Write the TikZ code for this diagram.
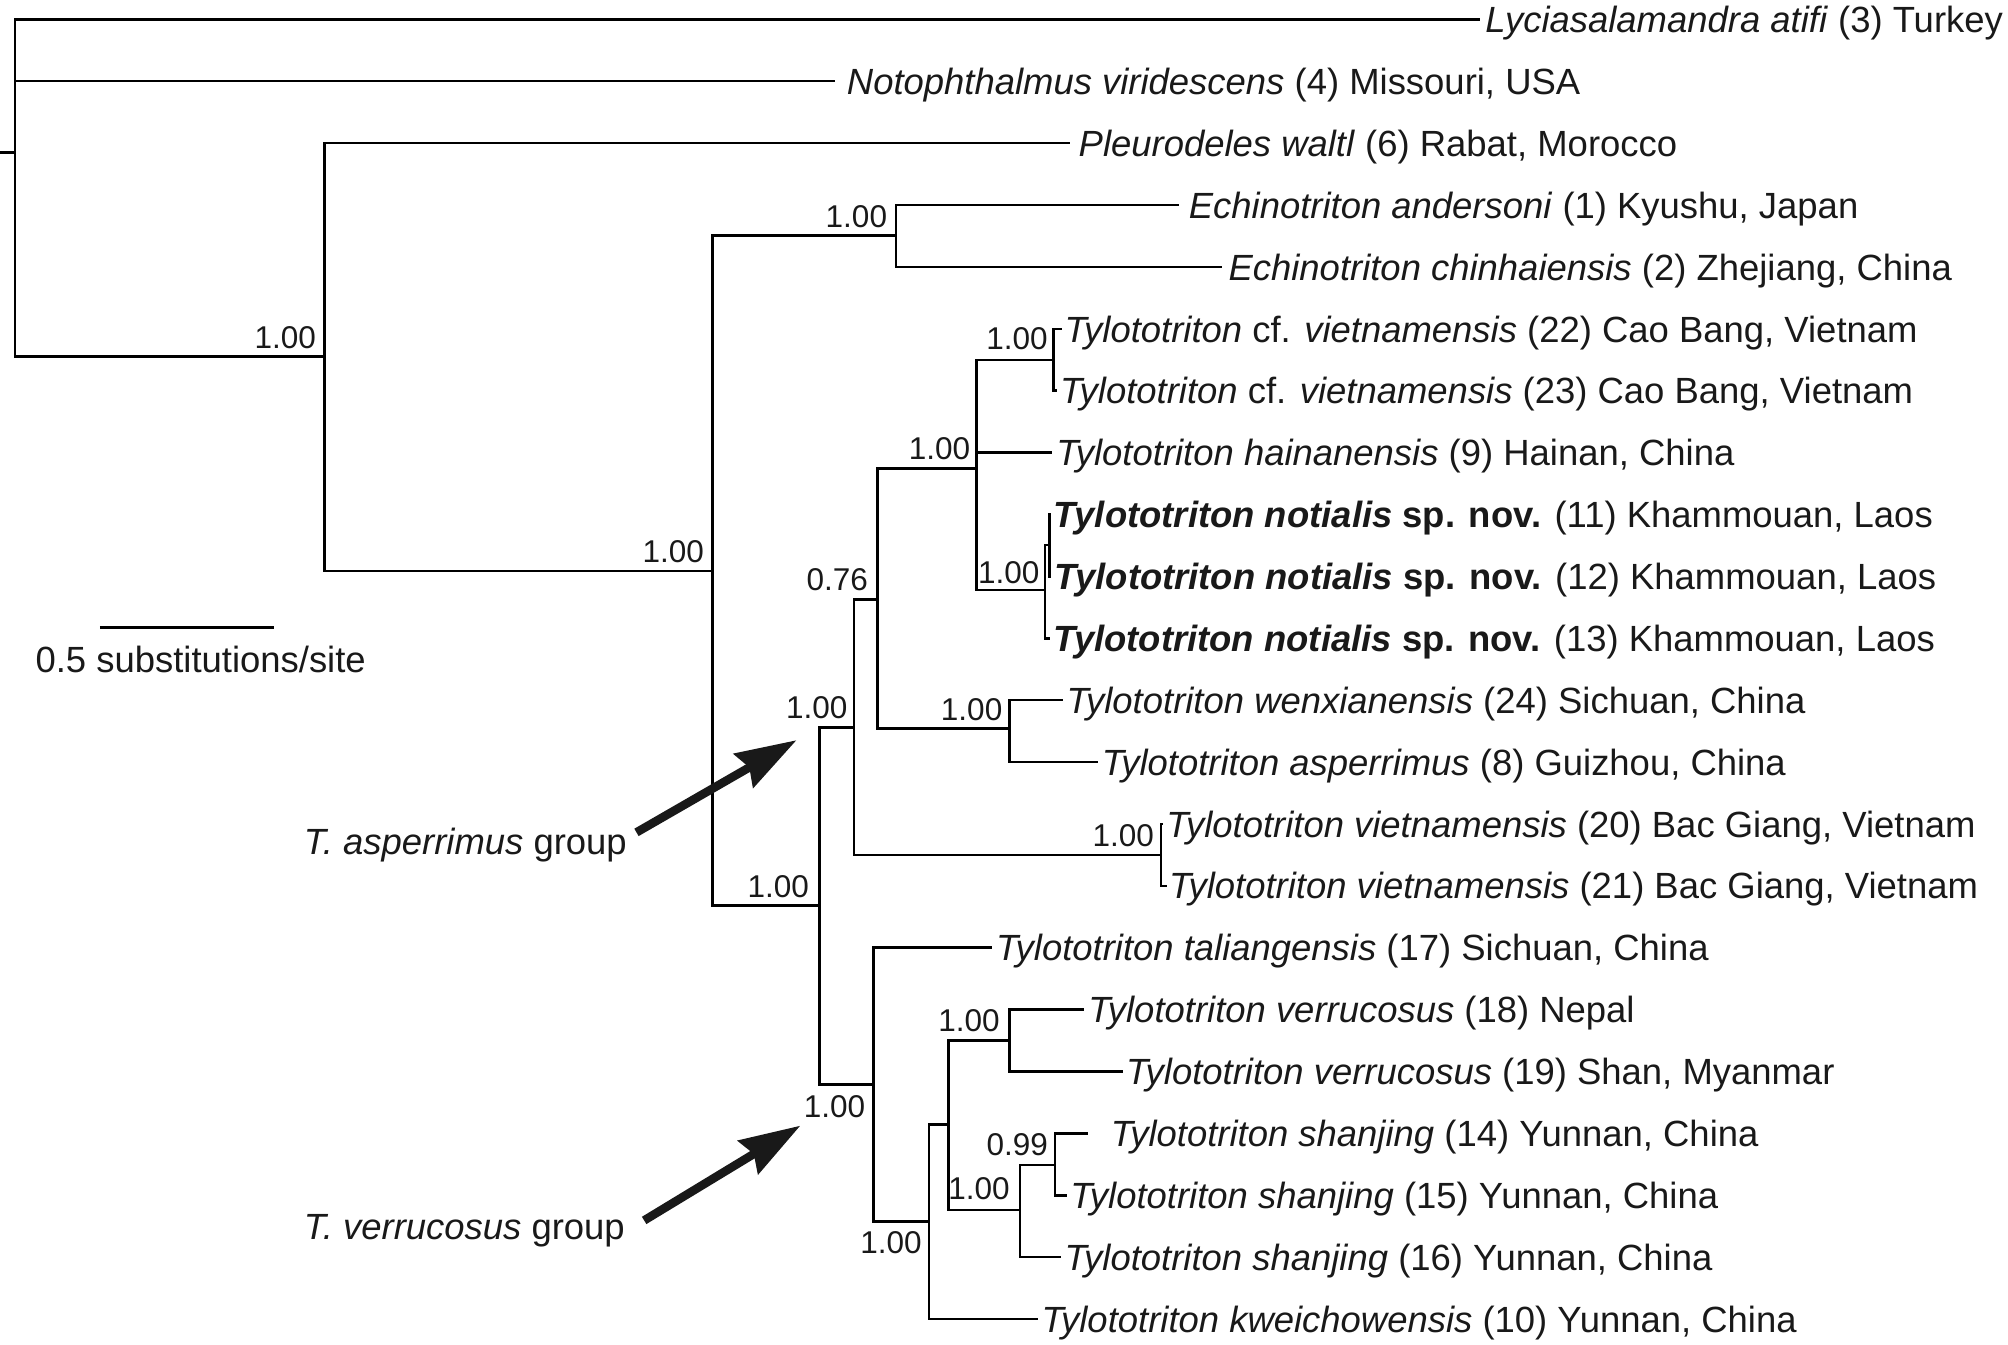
\documentclass[tikz,border=0pt]{standalone}
\usepackage{fontspec}
\setmainfont{Liberation Sans}
\usetikzlibrary{calc,arrows.meta}
\definecolor{ink}{RGB}{25,25,25}
\begin{document}
\begin{tikzpicture}[x=0.02cm,y=-0.02cm,
  br/.style={line width=1.15pt, draw=black},
  leaf/.style={font=\fontsize{16.2}{19}\selectfont, inner sep=0pt, anchor=base west, text=ink},
  sup/.style={font=\fontsize{14}{16}\selectfont, inner sep=0pt, anchor=base east, text=ink},
  grp/.style={font=\fontsize{16.2}{19}\selectfont, inner sep=0pt, anchor=base west, text=ink},
  bigarrow/.style={line width=3.8pt, draw=ink, -{Stealth[length=0.95cm,width=0.6cm,inset=0.1cm]}}]
\useasboundingbox (0,0) rectangle (1568,1050);
% ---------- internal nodes ----------
\coordinate (R0) at (0,119);
\coordinate (R) at (11.7,119);
\coordinate (A) at (253.5,278.5);
\coordinate (B) at (556.5,446);
\coordinate (E) at (699.5,184);
\coordinate (T) at (640,707);
\coordinate (G1) at (667,568);
\coordinate (N76) at (685,468);
\coordinate (H) at (762.5,365.7);
\coordinate (C) at (822.5,281);
\coordinate (N) at (816,460.7);
\coordinate (N2) at (819.4,425.5);
\coordinate (W) at (788.3,569);
\coordinate (V) at (906.6,667.7);
\coordinate (G2) at (682,847);
\coordinate (K) at (725.5,954);
\coordinate (M) at (740.5,878);
\coordinate (VR) at (788.3,812.7);
\coordinate (S) at (796.5,945);
\coordinate (S99) at (823.8,909.7);
% ---------- tips ----------
\coordinate (p1) at (1155.3,15.1);
\coordinate (p2) at (652.4,63.4);
\coordinate (p3) at (835.2,111.8);
\coordinate (p4) at (920.7,160.1);
\coordinate (p5) at (954,208.4);
\coordinate (p6) at (829,256.8);
\coordinate (p7) at (825.6,305.1);
\coordinate (p8) at (821.5,353.4);
\coordinate (p9) at (821,401.7);
\coordinate (p10) at (821,450.1);
\coordinate (p11) at (820,498.4);
\coordinate (p12) at (829.7,546.7);
\coordinate (p13) at (857.3,595.1);
\coordinate (p14) at (908.4,643.4);
\coordinate (p15) at (911.5,691.7);
\coordinate (p16) at (774.6,740.1);
\coordinate (p17) at (846.3,788.4);
\coordinate (p18) at (876.6,836.7);
\coordinate (p19) at (849.9,885.0);
\coordinate (p20) at (833,933.4);
\coordinate (p21) at (828.5,981.7);
\coordinate (p22) at (810.4,1030.0);
% ---------- branches ----------
\draw[br] (R0) -- (R);
\draw[br] (R) |- (p1);
\draw[br] (R) |- (p2);
\draw[br] (R) |- (A);
\draw[br] (A) |- (p3);
\draw[br] (A) |- (B);
\draw[br] (B) |- (E);
\draw[br] (E) |- (p4);
\draw[br] (E) |- (p5);
\draw[br] (B) |- (T);
\draw[br] (T) |- (G1);
\draw[br] (G1) |- (N76);
\draw[br] (N76) |- (H);
\draw[br] (H) |- (C);
\draw[br] (C) |- (p6);
\draw[br] (C) |- (p7);
\draw[br] (H) |- (p8);
\draw[br] (H) |- (N);
\draw[br] (N) |- (N2);
\draw[br] (N2) |- (p9);
\draw[br] (N2) |- (p10);
\draw[br] (N) |- (p11);
\draw[br] (N76) |- (W);
\draw[br] (W) |- (p12);
\draw[br] (W) |- (p13);
\draw[br] (G1) |- (V);
\draw[br] (V) |- (p14);
\draw[br] (V) |- (p15);
\draw[br] (T) |- (G2);
\draw[br] (G2) |- (p16);
\draw[br] (G2) |- (K);
\draw[br] (K) |- (M);
\draw[br] (M) |- (VR);
\draw[br] (VR) |- (p17);
\draw[br] (VR) |- (p18);
\draw[br] (M) |- (S);
\draw[br] (S) |- (S99);
\draw[br] (S99) |- (p19);
\draw[br] (S99) |- (p20);
\draw[br] (S) |- (p21);
\draw[br] (K) |- (p22);
% ---------- taxon labels ----------
\node[leaf] (t1) at ($(p1)+(4.3,10.3)$) {\textit{Lyciasalamandra atifi} (3) Turkey};
\node[leaf] (t2) at ($(p2)+(8.6,10.3)$) {\textit{Notophthalmus viridescens} (4) Missouri, USA};
\node[leaf] (t3) at ($(p3)+(6.8,10.3)$) {\textit{Pleurodeles waltl} (6) Rabat, Morocco};
\node[leaf] (t4) at ($(p4)+(7.3,10.3)$) {\textit{Echinotriton andersoni} (1) Kyushu, Japan};
\node[leaf] (t5) at ($(p5)+(5,10.3)$) {\textit{Echinotriton chinhaiensis} (2) Zhejiang, China};
\node[leaf] (t6) at ($(p6)+(2,10.3)$) {\textit{Tylototriton} cf. \textit{vietnamensis} (22) Cao Bang, Vietnam};
\node[leaf] (t7) at ($(p7)+(1.9,10.3)$) {\textit{Tylototriton} cf. \textit{vietnamensis} (23) Cao Bang, Vietnam};
\node[leaf] (t8) at ($(p8)+(3,10.3)$) {\textit{Tylototriton hainanensis} (9) Hainan, China};
\node[leaf] (t9) at ($(p9)+(1.5,10.3)$) {\textbf{\textit{Tylototriton notialis} sp. nov.} (11) Khammouan, Laos};
\node[leaf] (t10) at ($(p10)+(2,10.3)$) {\textbf{\textit{Tylototriton notialis} sp. nov.} (12) Khammouan, Laos};
\node[leaf] (t11) at ($(p11)+(2,10.3)$) {\textbf{\textit{Tylototriton notialis} sp. nov.} (13) Khammouan, Laos};
\node[leaf] (t12) at ($(p12)+(2.8,10.3)$) {\textit{Tylototriton wenxianensis} (24) Sichuan, China};
\node[leaf] (t13) at ($(p13)+(2.7,10.3)$) {\textit{Tylototriton asperrimus} (8) Guizhou, China};
\node[leaf] (t14) at ($(p14)+(2.1,10.3)$) {\textit{Tylototriton vietnamensis} (20) Bac Giang, Vietnam};
\node[leaf] (t15) at ($(p15)+(1,10.3)$) {\textit{Tylototriton vietnamensis} (21) Bac Giang, Vietnam};
\node[leaf] (t16) at ($(p16)+(2.9,10.3)$) {\textit{Tylototriton taliangensis} (17) Sichuan, China};
\node[leaf] (t17) at ($(p17)+(3.2,10.3)$) {\textit{Tylototriton verrucosus} (18) Nepal};
\node[leaf] (t18) at ($(p18)+(2.4,10.3)$) {\textit{Tylototriton verrucosus} (19) Shan, Myanmar};
\node[leaf] (t19) at ($(p19)+(17.1,10.3)$) {\textit{Tylototriton shanjing} (14) Yunnan, China};
\node[leaf] (t20) at ($(p20)+(2.5,10.3)$) {\textit{Tylototriton shanjing} (15) Yunnan, China};
\node[leaf] (t21) at ($(p21)+(2.5,10.3)$) {\textit{Tylototriton shanjing} (16) Yunnan, China};
\node[leaf] (t22) at ($(p22)+(2.6,10.3)$) {\textit{Tylototriton kweichowensis} (10) Yunnan, China};
% ---------- support values ----------
\node[sup] (sA) at ($(A)+(-6.5,-6.5)$) {1.00};
\node[sup] (sB) at ($(B)+(-6.5,-7)$) {1.00};
\node[sup] (sE) at ($(E)+(-6.5,-6)$) {1.00};
\node[sup] (sT) at ($(T)+(-8,-6)$) {1.00};
\node[sup] (sG1) at ($(G1)+(-5,-7)$) {1.00};
\node[sup] (sN76) at ($(N76)+(-7,-7)$) {0.76};
\node[sup] (sH) at ($(H)+(-4.5,-6.5)$) {1.00};
\node[sup] (sC) at ($(C)+(-4,-7.7)$) {1.00};
\node[sup] (sN) at ($(N)+(-4,-5.2)$) {1.00};
\node[sup] (sW) at ($(W)+(-5.3,-6.3)$) {1.00};
\node[sup] (sV) at ($(V)+(-5.2,-7)$) {1.00};
\node[sup] (sG2) at ($(G2)+(-6,26)$) {1.00};
\node[sup] (sK) at ($(K)+(-5.5,25)$) {1.00};
\node[sup] (sVR) at ($(VR)+(-7.3,-7.4)$) {1.00};
\node[sup] (sS) at ($(S)+(-7.8,-8)$) {1.00};
\node[sup] (sS99) at ($(S99)+(-5.2,-7.7)$) {0.99};
% ---------- scale bar ----------
\coordinate (sb1) at (78,490);
\coordinate (sb2) at (214,490);
\draw[line width=1.5pt] (sb1) -- (sb2);
\node[leaf] (sbt) at (27.4,525) {0.5 substitutions/site};
% ---------- group arrows ----------
\node[grp] (ga) at (237,667) {\textit{T. asperrimus} group};
\node[grp] (gv) at (237,968) {\textit{T. verrucosus} group};
\coordinate (a1s) at (497,650);
\coordinate (a1e) at (622,578);
\coordinate (a2s) at (503,953);
\coordinate (a2e) at (625,879);
\draw[bigarrow] (a1s) -- (a1e);
\draw[bigarrow] (a2s) -- (a2e);
\end{tikzpicture}
\end{document}
